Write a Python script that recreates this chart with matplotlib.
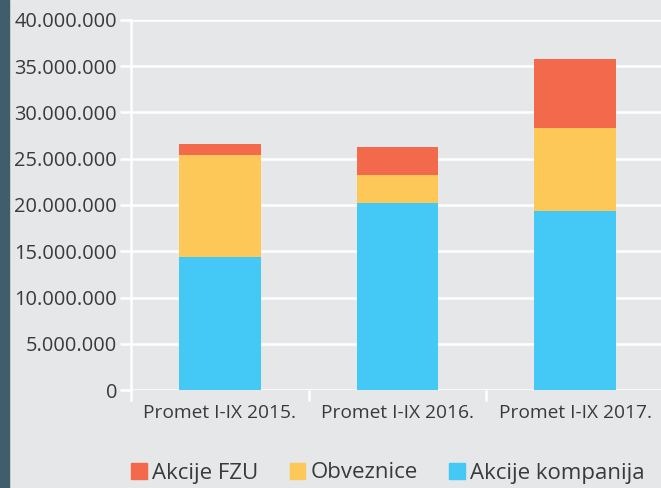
import matplotlib
matplotlib.use("Agg")
import matplotlib.pyplot as plt
from matplotlib.patches import Patch, Rectangle
from matplotlib.ticker import FuncFormatter, FixedLocator

# values in millions
categories = ['Promet I-IX 2015.', 'Promet I-IX 2016.', 'Promet I-IX 2017.']
akcije_kompanija = [14.4, 20.2, 19.3]
obveznice = [11.0, 3.0, 9.0]
akcije_fzu = [1.15, 3.1, 7.45]
series_names = ['Akcije FZU', 'Obveznice', 'Akcije kompanija']

BLUE = '#44c8f5'
YELLOW = '#fec859'
RED = '#f2694b'
BG = '#e6e7e8'
TXT = '#3a3a3a'

plt.rcParams['font.family'] = ['Open Sans', 'DejaVu Sans']

fig = plt.figure(figsize=(6.61, 4.88), dpi=100, facecolor=BG)
# dark strip on the left edge
fig.patches.append(Rectangle((0, 0), 9 / 661, 1, transform=fig.transFigure,
                             color='#3f5d6b', zorder=0))

ax = fig.add_axes([131 / 661, 98 / 488, 533 / 661, 370 / 488])
ax.set_facecolor(BG)

x = range(len(categories))
scale = 1e6
blue_v = [v * scale for v in akcije_kompanija]
yel_v = [v * scale for v in obveznice]
red_v = [v * scale for v in akcije_fzu]
bottom_red = [b + y for b, y in zip(blue_v, yel_v)]

ax.bar(x, blue_v, width=0.46, color=BLUE, zorder=3)
ax.bar(x, yel_v, bottom=blue_v, width=0.46, color=YELLOW, zorder=3)
ax.bar(x, red_v, bottom=bottom_red, width=0.46, color=RED, zorder=3)

ax.set_xlim(-0.5, 2.5)
ax.set_ylim(0, 40e6)
ax.set_yticks([i * 5e6 for i in range(9)])
ax.yaxis.set_major_formatter(FuncFormatter(lambda v, p: f'{int(v):,}'.replace(',', '.')))
ax.grid(axis='y', color='white', linewidth=1.8, zorder=1)

for s in ['top', 'right', 'bottom']:
    ax.spines[s].set_visible(False)
ax.spines['left'].set_color('white')
ax.spines['left'].set_linewidth(1.8)

# category separators as major ticks, labels on minor ticks
ax.xaxis.set_major_locator(FixedLocator([-0.5, 0.5, 1.5, 2.5]))
ax.xaxis.set_major_formatter(FuncFormatter(lambda v, p: ''))
ax.xaxis.set_minor_locator(FixedLocator(list(x)))
ax.set_xticklabels(categories, minor=True)
ax.tick_params(axis='x', which='major', color='white', width=1.8, length=8)
ax.tick_params(axis='x', which='minor', length=0, pad=10, labelsize=13.8, labelcolor=TXT)
ax.tick_params(axis='y', color='white', width=1.8, length=8, pad=2,
               labelsize=14.4, labelcolor=TXT)

handles = [Patch(color=RED), Patch(color=YELLOW), Patch(color=BLUE)]
fig.legend(handles, series_names, loc='center left', bbox_to_anchor=(120 / 661, 1 - 473 / 488),
           ncol=3, frameon=False, fontsize=16, labelcolor=TXT,
           handlelength=0.7, handleheight=0.7, handletextpad=0.25, columnspacing=1.4,
           borderpad=0)

fig.savefig('out.png', dpi=100, facecolor=BG)
